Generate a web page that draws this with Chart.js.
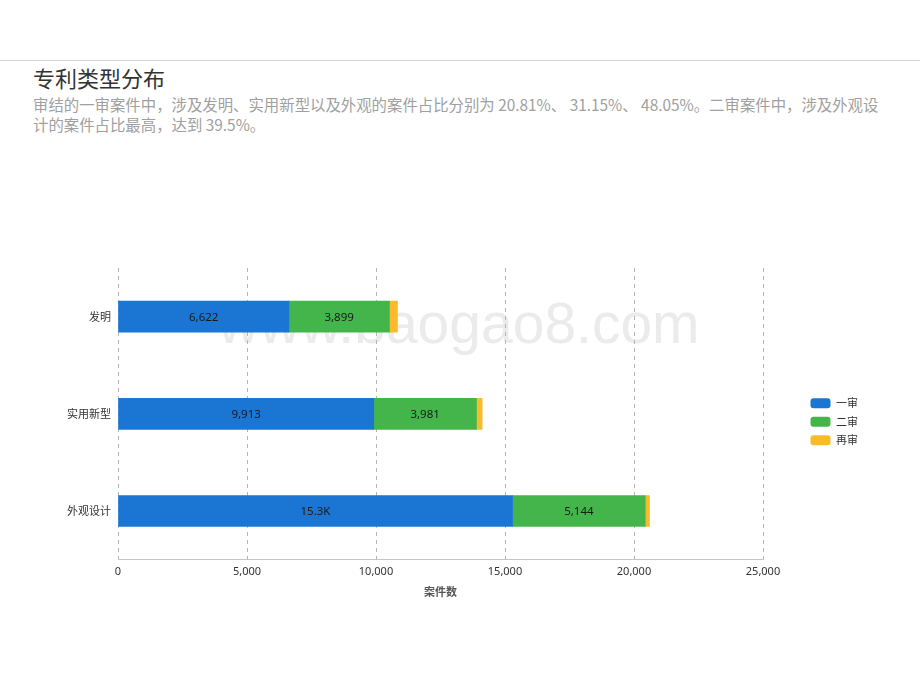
<!DOCTYPE html>
<html>
<head>
<meta charset="utf-8">
<script src="https://cdn.jsdelivr.net/npm/chart.js@4"></script>
<style>
  html, body { margin: 0; padding: 0; background: #fff; }
  body { width: 920px; height: 690px; position: relative; overflow: hidden;
         font-family: "Noto Sans CJK SC", "Noto Sans", sans-serif; }
  .rule { position: absolute; left: 0; top: 60px; width: 920px; height: 1px; background: #d4d4d4; }
  h1 { position: absolute; left: 33px; top: 62px; margin: 0; font-size: 22px; font-weight: 400; color: #333; line-height: 30px; }
  .sub { position: absolute; left: 33px; top: 94px; margin: 0; font-size: 15.4px; color: #a0a0a0; line-height: 20px; white-space: nowrap; }
  .wm { position: absolute; left: 218px; top: 290px; font-family: "Liberation Sans", sans-serif; font-size: 57px; color: #ebebeb; white-space: nowrap; }
  #wrap { position: absolute; left: 0; top: 250px; width: 920px; height: 370px; }
</style>
</head>
<body>
<div class="rule"></div>
<h1>专利类型分布</h1>
<p class="sub">审结的一审案件中，涉及发明、实用新型以及外观的案件占比分别为 20.81%、 31.15%、 48.05%。二审案件中，涉及外观设<br>计的案件占比最高，达到 39.5%。</p>
<div class="wm">www.baogao8.com</div>
<div id="wrap"><canvas id="c"></canvas></div>
<script>
const categories = ['发明', '实用新型', '外观设计'];
const seriesNames = ['一审', '二审', '再审'];
const firstInstance = [6622, 9913, 15291];
const secondInstance = [3899, 3981, 5144];
const retrial = [310, 220, 165];
const seriesColors = ['#1a76d2', '#43b54b', '#f9bb2c'];
const xTicks = [0, 5000, 10000, 15000, 20000, 25000];

function fmt(v) {
  if (v >= 10000) return (v / 1000).toFixed(1) + 'K';
  return v.toLocaleString('en-US');
}

// draws value labels in the middle of the two large segments
const barLabels = {
  id: 'barLabels',
  afterDatasetsDraw(chart) {
    const ctx = chart.ctx;
    ctx.save();
    ctx.font = '11.5px "Noto Sans", "Liberation Sans", sans-serif';
    ctx.fillStyle = '#1a1a1a';
    ctx.textAlign = 'center';
    ctx.textBaseline = 'middle';
    [0, 1].forEach(di => {
      const meta = chart.getDatasetMeta(di);
      meta.data.forEach((bar, i) => {
        const v = chart.data.datasets[di].data[i];
        const p = bar.getProps(['x', 'y', 'base'], true);
        ctx.fillText(fmt(v), (p.x + p.base) / 2, p.y + 1);
      });
    });
    ctx.restore();
  }
};

const data = [firstInstance, secondInstance, retrial];

new Chart(document.getElementById('c'), {
  type: 'bar',
  data: {
    labels: categories,
    datasets: seriesNames.map((name, i) => ({
      label: name,
      data: data[i],
      backgroundColor: seriesColors[i],
      borderWidth: 0,
      barThickness: 31,
    })),
  },
  options: {
    indexAxis: 'y',
    responsive: true,
    maintainAspectRatio: false,
    animation: false,
    layout: { padding: { top: 18, left: 0, right: 52, bottom: 14 } },
    plugins: {
      legend: {
        position: 'right',
        align: 'start',
        // empty title used only to push the items down
        title: { display: true, text: '', padding: { top: 109, bottom: 0 }, font: { size: 11 } },
        labels: {
          boxWidth: 20,
          boxHeight: 10,
          padding: 7.5,
          color: '#333',
          font: { size: 11, family: '"Noto Sans CJK SC", sans-serif' },
          useBorderRadius: true,
          borderRadius: 3,
        },
      },
      tooltip: { enabled: false },
    },
    scales: {
      x: {
        stacked: true,
        min: 0,
        max: 25000,
        afterBuildTicks: s => { s.ticks = xTicks.map(v => ({ value: v })); },
        ticks: {
          color: '#333',
          padding: 6,
          font: { size: 11, family: '"Noto Sans", sans-serif' },
          callback: v => v.toLocaleString('en-US'),
        },
        grid: { color: '#b5b5b5', drawTicks: false },
        border: { display: true, color: '#c4c4c4', width: 1, dash: [4, 4] },
        title: {
          display: true,
          text: '案件数',
          color: '#555',
          font: { size: 11, weight: 'bold', family: '"Noto Sans CJK SC", sans-serif' },
          padding: { top: 0, bottom: 8 },
        },
      },
      y: {
        stacked: true,
        ticks: { color: '#333', padding: 7, font: { size: 11, family: '"Noto Sans CJK SC", sans-serif' } },
        grid: { display: false, drawTicks: false },
        border: { display: false },
        afterFit: s => { s.width = 118; },
      },
      y2: {
        type: 'linear',
        position: 'right',
        min: 0,
        max: 1,
        display: true,
        ticks: { display: false },
        grid: { display: false, drawTicks: false },
        border: { display: false },
        afterFit: s => { s.width = 40; },
      },
    },
  },
  plugins: [barLabels],
});
</script>
</body>
</html>
